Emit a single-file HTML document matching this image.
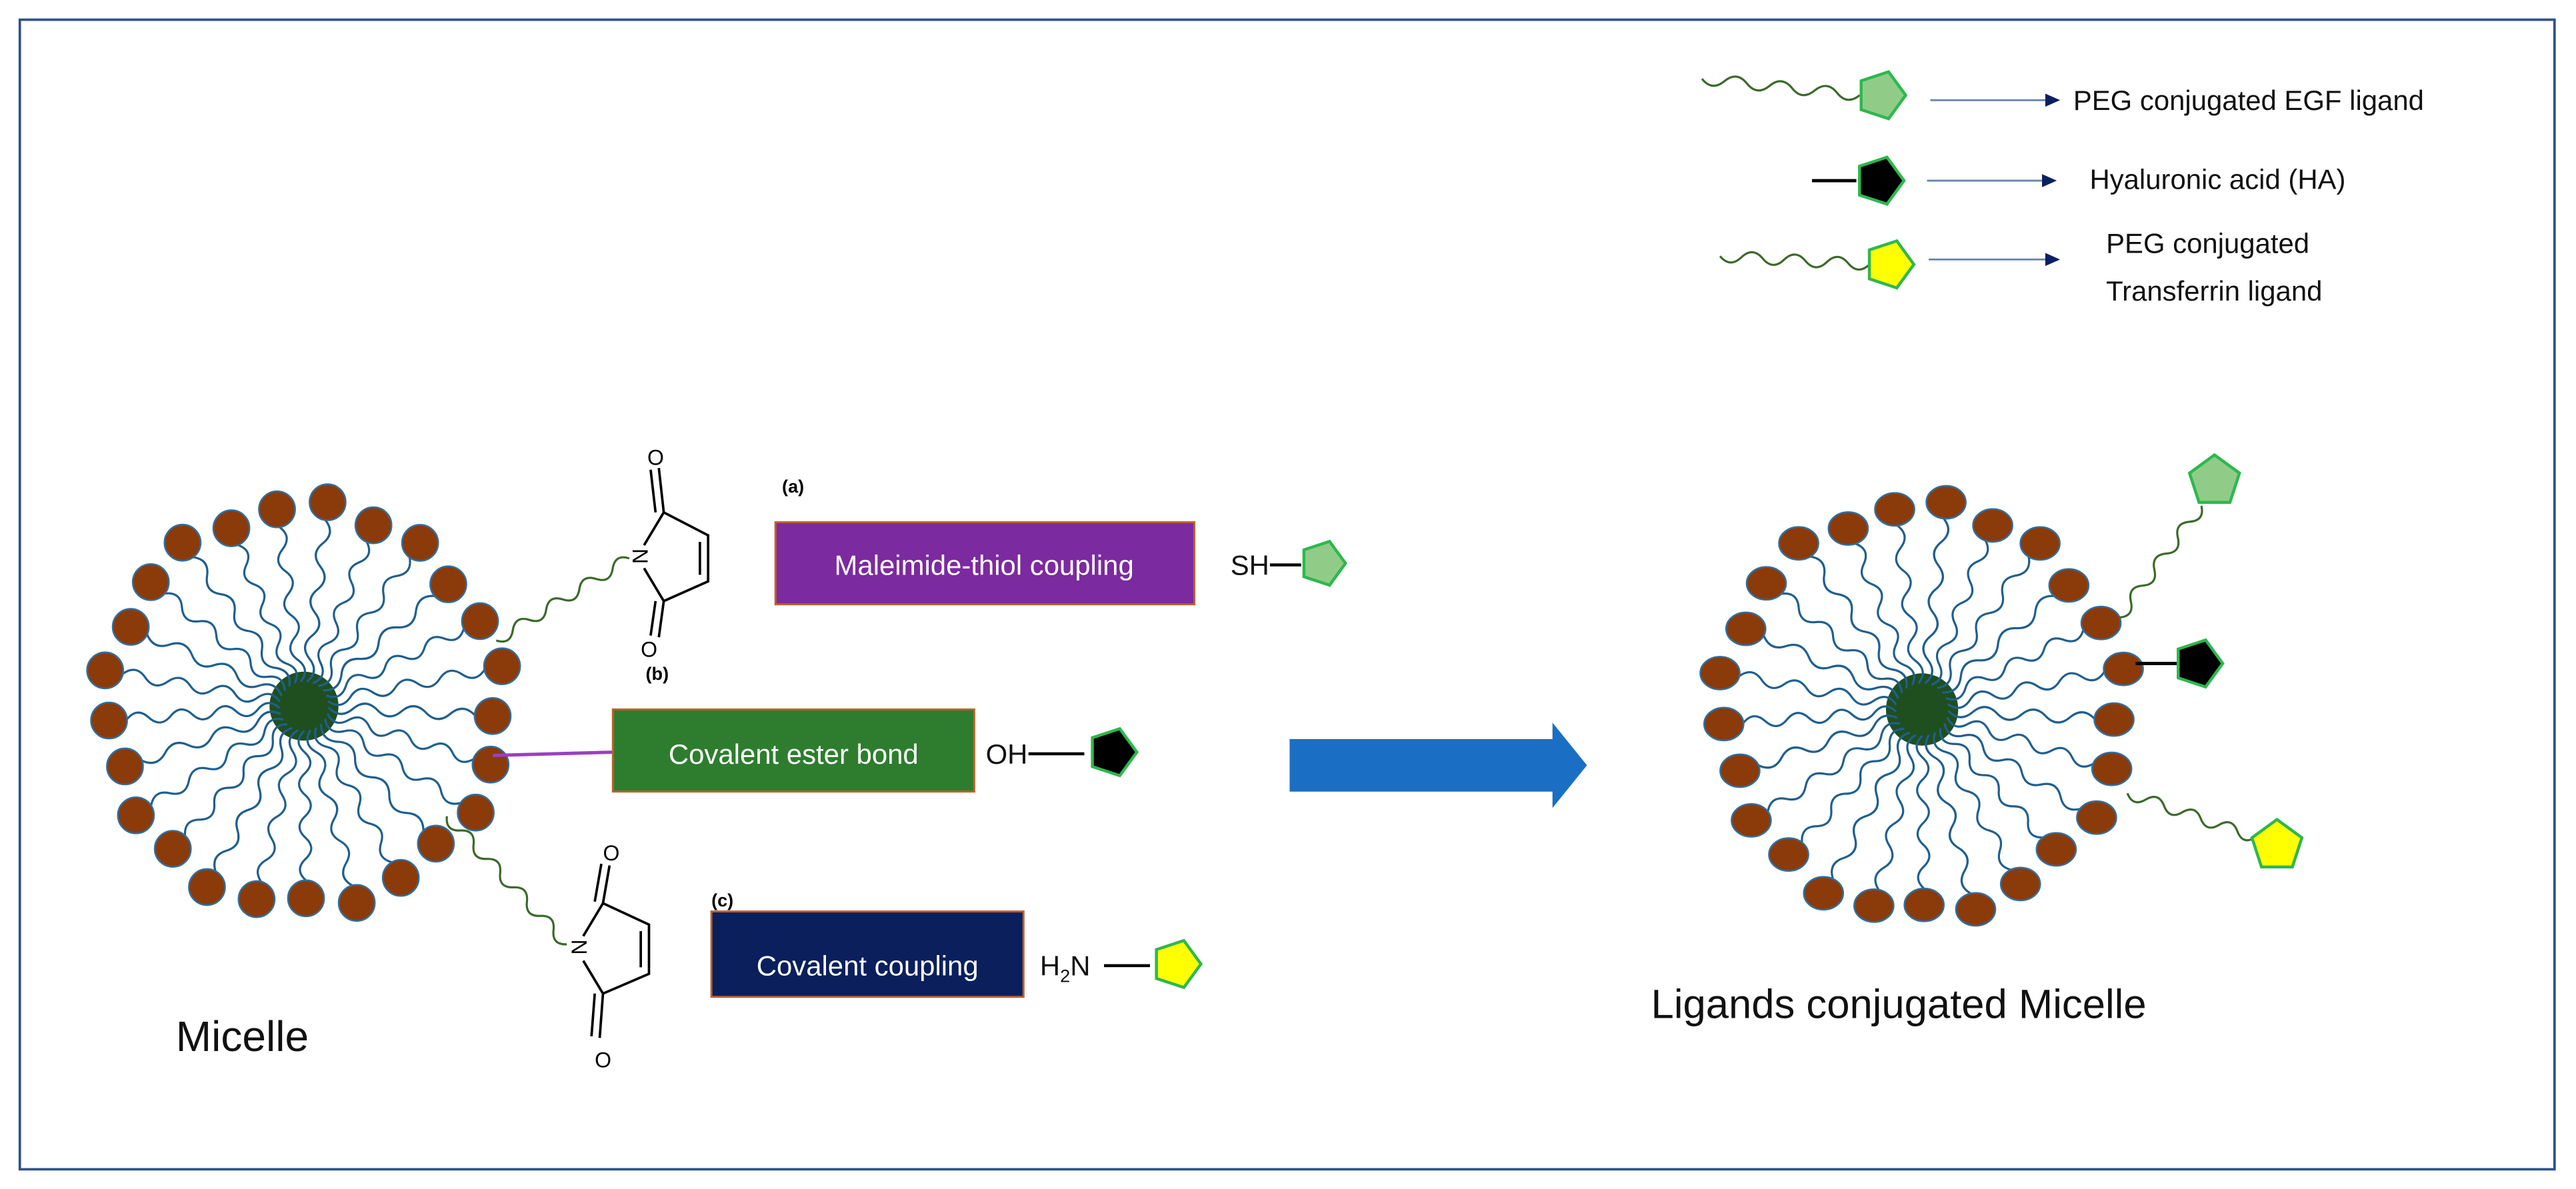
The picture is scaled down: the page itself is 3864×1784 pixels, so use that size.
<!DOCTYPE html>
<html><head><meta charset="utf-8"><style>
html,body{margin:0;padding:0;background:#fff;}
svg{display:block;}
text{font-family:"Liberation Sans",sans-serif;}
</style></head><body>
<svg id="s" width="3864" height="1784" viewBox="0 0 1568 724" xmlns="http://www.w3.org/2000/svg">
<rect x="0" y="0" width="1568" height="724" fill="#fff"/>
<rect x="12" y="12" width="1543" height="700" fill="none" stroke="#2f4f8f" stroke-width="1.5"/>
<g id="gen"></g>

<!-- legend -->
<g stroke="#6a86b0" stroke-width="1.2">
<line x1="1175" y1="61" x2="1245" y2="61"/><line x1="1173" y1="110" x2="1243" y2="110"/><line x1="1174" y1="158" x2="1245" y2="158"/>
</g>
<g fill="#0a2060">
<polygon points="1245,57 1254,61 1245,65"/><polygon points="1243,106 1252,110 1243,114"/><polygon points="1245,154 1254,158 1245,162"/>
</g>
<line x1="1103" y1="110" x2="1130" y2="110" stroke="#000" stroke-width="2"/>
<g font-size="17" fill="#111">
<text x="1262" y="67">PEG conjugated EGF ligand</text>
<text x="1272" y="115">Hyaluronic acid (HA)</text>
<text x="1282" y="154">PEG conjugated</text>
<text x="1282" y="183">Transferrin ligand</text>
</g>

<!-- left section -->
<text x="476" y="300" font-size="11" font-weight="bold">(a)</text>
<rect x="472" y="318" width="255" height="50" fill="#7b2a9f" stroke="#c0602a" stroke-width="1.2"/>
<text x="599" y="350" font-size="17" fill="#fff" text-anchor="middle">Maleimide-thiol coupling</text>
<text x="749" y="350" font-size="17" fill="#111">SH</text>
<line x1="773" y1="344" x2="792" y2="344" stroke="#000" stroke-width="1.8"/>

<text x="393" y="414" font-size="11" font-weight="bold">(b)</text>
<line x1="300" y1="460" x2="373" y2="458" stroke="#9a40c0" stroke-width="2"/>
<rect x="373" y="432" width="220" height="50" fill="#2e7d2e" stroke="#c0602a" stroke-width="1.2"/>
<text x="483" y="465" font-size="17" fill="#fff" text-anchor="middle">Covalent ester bond</text>
<text x="600" y="465" font-size="17" fill="#111">OH</text>
<line x1="626" y1="459" x2="660" y2="459" stroke="#000" stroke-width="1.8"/>

<text x="433" y="552" font-size="11" font-weight="bold">(c)</text>
<rect x="433" y="555" width="190" height="52" fill="#0a1f5c" stroke="#c0602a" stroke-width="1.2"/>
<text x="528" y="594" font-size="17" fill="#fff" text-anchor="middle">Covalent coupling</text>
<text x="633" y="594" font-size="17" fill="#111">H<tspan font-size="11" dy="4">2</tspan><tspan dy="-4">N</tspan></text>
<line x1="672" y1="588" x2="700" y2="588" stroke="#000" stroke-width="1.8"/>

<text x="107" y="640" font-size="26" fill="#111">Micelle</text>
<text x="1005" y="620" font-size="25" fill="#111">Ligands conjugated Micelle</text>

<!-- maleimide a -->
<g stroke="#000" stroke-width="1.5" fill="none">
<polyline points="392,332 404,312 431,326 431,354 404,366 392,346"/>
<line x1="426" y1="330" x2="426" y2="350"/>
<line x1="404" y1="312" x2="401" y2="285"/><line x1="399" y1="312" x2="396" y2="286"/>
<line x1="404" y1="366" x2="401" y2="388"/><line x1="399" y1="366" x2="396" y2="387"/>
</g>
<text x="384" y="345" font-size="13" transform="rotate(90 390 340)">N</text>
<text x="394" y="283" font-size="13">O</text>
<text x="390" y="400" font-size="13">O</text>
<!-- maleimide c -->
<g stroke="#000" stroke-width="1.5" fill="none">
<polyline points="355,570 367,550 395,563 395,593 367,605 355,585"/>
<line x1="390" y1="567" x2="390" y2="589"/>
<line x1="367" y1="550" x2="371" y2="527"/><line x1="362" y1="549" x2="366" y2="526"/>
<line x1="367" y1="605" x2="365" y2="632"/><line x1="362" y1="605" x2="360" y2="631"/>
</g>
<text x="346" y="582" font-size="13" transform="rotate(90 352 578)">N</text>
<text x="367" y="524" font-size="13">O</text>
<text x="362" y="650" font-size="13">O</text>

<!-- big arrow -->
<polygon points="785,450 945,450 945,440 966,466 945,492 945,482 785,482" fill="#1a6fc4"/>
</svg>
<script>
var g=document.getElementById('gen');var NS='http://www.w3.org/2000/svg';
function el(t,a){var e=document.createElementNS(NS,t);for(var k in a)e.setAttribute(k,a[k]);g.appendChild(e);return e;}
function zig(x1,y1,x2,y2,amp,wl,col,w){var dx=x2-x1,dy=y2-y1,L=Math.hypot(dx,dy),n=Math.max(2,Math.round(L/wl)),ux=dx/L,uy=dy/L,px=-uy,py=ux,d='M'+x1+','+y1;
for(var i=1;i<=n;i++){var t0=(i-0.5)/n,t=i/n,s=(i%2?1:-1)*amp*2;
d+=' Q'+(x1+dx*t0+px*s).toFixed(1)+','+(y1+dy*t0+py*s).toFixed(1)+' '+(x1+dx*t).toFixed(1)+','+(y1+dy*t).toFixed(1);}
el('path',{d:d,fill:'none',stroke:col,'stroke-width':w||1.3,'stroke-linejoin':'round'});}
function pent(cx,cy,r,rot,fill,stroke){var p=[];for(var i=0;i<5;i++){var a=(rot+i*72)*Math.PI/180;p.push((cx+r*Math.cos(a)).toFixed(1)+','+(cy+r*Math.sin(a)).toFixed(1));}
el('polygon',{points:p.join(' '),fill:fill,stroke:stroke,'stroke-width':1.8});}
function micelle(cx,cy,R,rc,n,rx,ry,off){var heads=[];
el('circle',{cx:cx,cy:cy,r:rc,fill:'#1f4f1f'});
for(var i=0;i<n;i++){var a=(off+i*360/n)*Math.PI/180;var rr=R+((i*37)%11-5);var hx=cx+rr*Math.cos(a),hy=cy+rr*Math.sin(a);heads.push([hx,hy]);
zig(cx+(rc-6)*Math.cos(a),cy+(rc-6)*Math.sin(a),hx-rx*Math.cos(a),hy-ry*Math.sin(a),3.5,14,'#1f5f8f',1.3);}
for(var i=0;i<n;i++){el('ellipse',{cx:heads[i][0],cy:heads[i][1],rx:rx,ry:ry,fill:'#8b3a0a',stroke:'#2f6fa0','stroke-width':1});}
return heads;}
micelle(185,430,120,21,25,11,11,3);
micelle(1170,432,122,22,25,12,10,3);
zig(302,390,383,340,3.5,12,'#3a6a2a',1.3);
zig(272,497,345,575,3.5,12,'#3a6a2a',1.3);
pent(805,343,14,0,'#90cc88','#2db84d');
pent(677,458,15,0,'#000','#2db84d');
pent(716,587,15,0,'#ffff00','#2db84d');
zig(1290,376,1340,308,3.5,12,'#3a6a2a',1.3);
pent(1348,293,16,-90,'#90cc88','#2db84d');
el('line',{x1:1300,y1:404,x2:1325,y2:404,stroke:'#000','stroke-width':2});
pent(1338,404,15,0,'#000','#2db84d');
zig(1295,483,1373,510,3.5,12,'#3a6a2a',1.3);
pent(1386,515,16,-90,'#ffff00','#2db84d');
zig(1036,48,1132,58,3.5,13,'#3a6a2a',1.3);
pent(1145,58,15,0,'#90cc88','#2db84d');
pent(1144,110,15,0,'#000','#2db84d');
zig(1047,156,1138,161,3.5,13,'#3a6a2a',1.3);
pent(1150,161,15,0,'#ffff00','#2db84d');
</script>
</body></html>
